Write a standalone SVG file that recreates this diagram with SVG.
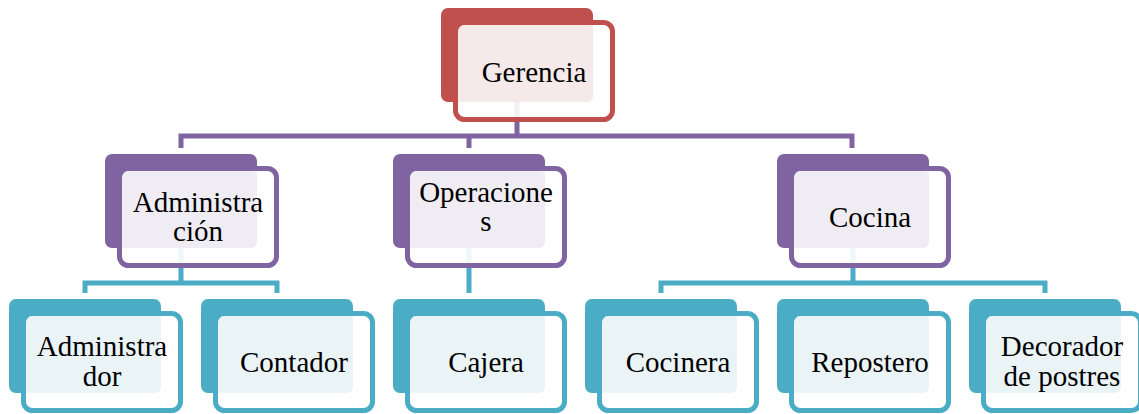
<svg xmlns="http://www.w3.org/2000/svg" width="1139" height="414" viewBox="0 0 1139 414">
<style>
text{font-family:"Liberation Serif","Times New Roman",serif;font-size:29px;fill:#000;text-anchor:middle}
.b{stroke:none}
.f{fill:#fff;fill-opacity:0.9;stroke-width:5}
.red .b{fill:#C0504D}.red .f{stroke:#C0504D}.red .l{fill:#F5E9E9}
.pur .b{fill:#8064A2}.pur .f{stroke:#8064A2}.pur .l{fill:#EFEDF3}
.tea .b{fill:#4BACC6}.tea .f{stroke:#4BACC6}.tea .l{fill:#EAF4F7}
.cp{fill:none;stroke:#8064A2;stroke-width:5}
.ct{fill:none;stroke:#4BACC6;stroke-width:5}
</style>
<g id="connectors">
<path class="cp" d="M517,102 V136 M181,148 V136 H852 V148 M469,136 V148"/>
<path class="ct" d="M181,248 V283 M85,293 V283 H277 V293 M469,248 V293 M853,248 V283 M661,293 V283 H1045 V293"/>
</g>
<g id="gerencia" class="red" transform="translate(441,8)">
<rect class="b" width="152" height="94" rx="7"/><rect class="f" x="14.5" y="14.5" width="157" height="97" rx="9"/><rect class="l" x="17.5" y="17" width="134.5" height="77" rx="6"/>
<text x="93" y="74">Gerencia</text></g>
<g id="administracion" class="pur" transform="translate(105,154)">
<rect class="b" width="152" height="94" rx="7"/><rect class="f" x="14.5" y="14.5" width="157" height="97" rx="9"/><rect class="l" x="17.5" y="17" width="134.5" height="77" rx="6"/>
<text x="93" y="58">Administra</text><text x="93" y="87">ción</text></g>
<g id="operaciones" class="pur" transform="translate(393,154)">
<rect class="b" width="152" height="94" rx="7"/><rect class="f" x="14.5" y="14.5" width="157" height="97" rx="9"/><rect class="l" x="17.5" y="17" width="134.5" height="77" rx="6"/>
<text x="93" y="48">Operacione</text><text x="93" y="77">s</text></g>
<g id="cocina" class="pur" transform="translate(777,154)">
<rect class="b" width="152" height="94" rx="7"/><rect class="f" x="14.5" y="14.5" width="157" height="97" rx="9"/><rect class="l" x="17.5" y="17" width="134.5" height="77" rx="6"/>
<text x="93" y="73">Cocina</text></g>
<g id="administrador" class="tea" transform="translate(9,299)">
<rect class="b" width="152" height="94" rx="7"/><rect class="f" x="14.5" y="14.5" width="157" height="97" rx="9"/><rect class="l" x="17.5" y="17" width="134.5" height="77" rx="6"/>
<text x="93" y="57">Administra</text><text x="93" y="87">dor</text></g>
<g id="contador" class="tea" transform="translate(201,299)">
<rect class="b" width="152" height="94" rx="7"/><rect class="f" x="14.5" y="14.5" width="157" height="97" rx="9"/><rect class="l" x="17.5" y="17" width="134.5" height="77" rx="6"/>
<text x="93" y="73">Contador</text></g>
<g id="cajera" class="tea" transform="translate(393,299)">
<rect class="b" width="152" height="94" rx="7"/><rect class="f" x="14.5" y="14.5" width="157" height="97" rx="9"/><rect class="l" x="17.5" y="17" width="134.5" height="77" rx="6"/>
<text x="93" y="73">Cajera</text></g>
<g id="cocinera" class="tea" transform="translate(585,299)">
<rect class="b" width="152" height="94" rx="7"/><rect class="f" x="14.5" y="14.5" width="157" height="97" rx="9"/><rect class="l" x="17.5" y="17" width="134.5" height="77" rx="6"/>
<text x="93" y="73">Cocinera</text></g>
<g id="repostero" class="tea" transform="translate(777,299)">
<rect class="b" width="152" height="94" rx="7"/><rect class="f" x="14.5" y="14.5" width="157" height="97" rx="9"/><rect class="l" x="17.5" y="17" width="134.5" height="77" rx="6"/>
<text x="93" y="73">Repostero</text></g>
<g id="decorador" class="tea" transform="translate(969,299)">
<rect class="b" width="152" height="94" rx="7"/><rect class="f" x="14.5" y="14.5" width="157" height="97" rx="9"/><rect class="l" x="17.5" y="17" width="134.5" height="77" rx="6"/>
<text x="93" y="57">Decorador</text><text x="93" y="87">de postres</text></g>
</svg>
